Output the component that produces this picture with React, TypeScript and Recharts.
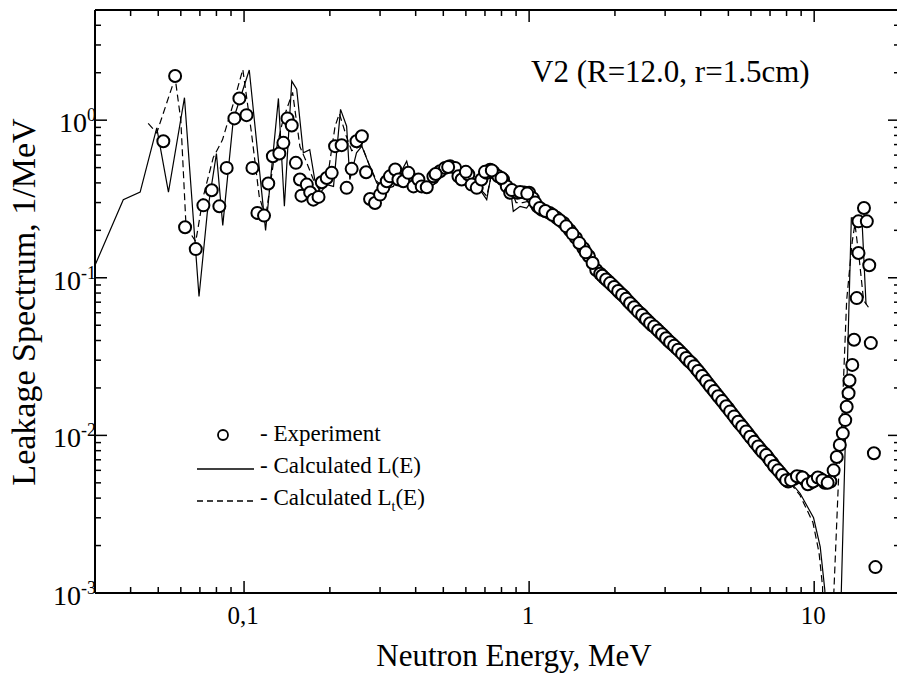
import React from 'react';
import { ComposedChart, Line, Scatter, XAxis, YAxis, Legend } from 'recharts';

// ---------- data ----------
const expEnergy = [
  0.0521, 0.0573, 0.0621, 0.0677, 0.072, 0.077, 0.0819, 0.0869, 0.0925, 0.0963,
  0.102, 0.107, 0.1114, 0.1175, 0.1216, 0.1262, 0.133, 0.1374, 0.142, 0.147,
  0.152, 0.1571, 0.159, 0.166, 0.1706, 0.175, 0.1825, 0.1874, 0.195, 0.203,
  0.2086, 0.22, 0.229, 0.2385, 0.248, 0.259, 0.268, 0.2767, 0.288, 0.3,
  0.308, 0.3167, 0.325, 0.339, 0.348, 0.362, 0.377, 0.393, 0.409, 0.42,
  0.4375, 0.4615, 0.487, 0.507, 0.528, 0.55, 0.565, 0.58, 0.612, 0.6285,
  0.655, 0.68, 0.7096, 0.7297, 0.75, 0.78, 0.81, 0.835, 0.858, 0.91,
  0.96, 1.0, 1.03, 1.07, 1.11, 1.18, 1.25, 1.32, 1.39, 1.46,
  1.55, 1.62, 1.72, 1.775, 1.834, 1.893, 1.955, 2.02, 2.086, 2.154,
  2.225, 2.298, 2.373, 2.452, 2.532, 2.615, 2.701, 2.79, 2.881, 2.976,
  3.074, 3.175, 3.279, 3.387, 3.499, 3.613, 3.732, 3.855, 3.981, 4.112,
  4.246, 4.386, 4.53, 4.679, 4.833, 4.991, 5.156, 5.325, 5.5, 5.68,
  5.867, 6.06, 6.259, 6.464, 6.677, 6.896, 7.123, 7.357, 7.598, 7.848,
  8.106, 8.5, 8.93, 9.3, 9.7, 10.1, 10.5, 10.9, 11.4, 11.7,
  12.0, 12.3, 12.6, 12.85, 13.0, 13.2, 13.3, 13.6, 13.8, 14.1,
  14.3, 14.3, 14.95, 15.3, 15.6, 15.8, 16.2, 16.4,
];
const expValue = [
  0.735, 1.905, 0.209, 0.152, 0.288, 0.359, 0.284, 0.498, 1.026, 1.374,
  1.076, 0.498, 0.258, 0.248, 0.396, 0.59, 0.614, 0.718, 1.026, 0.925,
  0.536, 0.42, 0.332, 0.39, 0.348, 0.313, 0.326, 0.404, 0.43, 0.463,
  0.684, 0.694, 0.372, 0.491, 0.735, 0.791, 0.467, 0.316, 0.298, 0.337,
  0.372, 0.41, 0.44, 0.486, 0.42, 0.41, 0.463, 0.38, 0.42, 0.38,
  0.375, 0.44, 0.474, 0.498, 0.51, 0.498, 0.44, 0.42, 0.452, 0.39,
  0.372, 0.42, 0.463, 0.485, 0.467, 0.44, 0.42, 0.38, 0.346, 0.346,
  0.348, 0.346, 0.32, 0.284, 0.27, 0.258, 0.24, 0.223, 0.2, 0.179,
  0.154, 0.137, 0.112, 0.106, 0.1, 0.095, 0.09, 0.085, 0.08, 0.076,
  0.071, 0.067, 0.063, 0.0595, 0.056, 0.053, 0.05, 0.0477, 0.045, 0.0426,
  0.04, 0.038, 0.036, 0.034, 0.032, 0.03, 0.0285, 0.0265, 0.0247, 0.023,
  0.0213, 0.0198, 0.0184, 0.0171, 0.0159, 0.0148, 0.0137, 0.0127, 0.0118, 0.011,
  0.0102, 0.0095, 0.0088, 0.0082, 0.0077, 0.0072, 0.0067, 0.0062, 0.0058, 0.0054,
  0.0051, 0.0053, 0.00546, 0.0052, 0.005, 0.0052, 0.0053, 0.005, 0.0051, 0.006,
  0.0073, 0.0087, 0.0103, 0.0125, 0.0152, 0.0185, 0.0223, 0.028, 0.0404, 0.0743,
  0.1436, 0.228, 0.277, 0.228, 0.12, 0.0385, 0.0077, 0.00146,
];

// extra experimental points in the densely sampled 0.5 - 11 MeV band
const expDenseEnergy = [
  0.47, 0.52, 0.6, 0.7, 0.74, 0.8, 0.87, 0.93, 0.985, 1.05,
  1.09, 1.14, 1.21, 1.28, 1.35, 1.42, 1.5, 1.58, 1.67, 1.805,
  1.863, 1.924, 1.987, 2.053, 2.12, 2.189, 2.261, 2.335, 2.412, 2.492,
  2.573, 2.658, 2.745, 2.835, 2.928, 3.025, 3.124, 3.227, 3.333, 3.442,
  3.556, 3.672, 3.793, 3.918, 4.046, 4.179, 4.315, 4.458, 4.604, 4.756,
  4.912, 5.073, 5.24, 5.412, 5.59, 5.773, 5.963, 6.159, 6.361, 6.57,
  6.786, 7.009, 7.239, 7.477, 7.722, 7.976, 8.3, 8.7, 9.1, 9.5,
  9.9, 10.3, 10.7, 11.15,
];
const expDenseValue = [
  0.455, 0.505, 0.47, 0.47, 0.48, 0.43, 0.36, 0.35, 0.342, 0.3,
  0.277, 0.265, 0.25, 0.232, 0.212, 0.19, 0.166, 0.145, 0.124, 0.103,
  0.0975, 0.0925, 0.0875, 0.0825, 0.078, 0.0735, 0.069, 0.065, 0.061, 0.058,
  0.0545, 0.0515, 0.049, 0.0463, 0.0438, 0.0413, 0.039, 0.037, 0.035, 0.033,
  0.031, 0.0292, 0.0275, 0.0256, 0.0238, 0.0221, 0.0205, 0.0191, 0.0177, 0.0165,
  0.0153, 0.0142, 0.0132, 0.0122, 0.0114, 0.0106, 0.0098, 0.0091, 0.0085, 0.0079,
  0.0075, 0.0069, 0.0064, 0.006, 0.0056, 0.0052, 0.0052, 0.0055, 0.0054, 0.0049,
  0.0051, 0.0054, 0.0052, 0.005,
];

const calcEnergy = [
  0.03, 0.0377, 0.0432, 0.0494, 0.0543, 0.0618, 0.0695, 0.0743, 0.08, 0.0842,
  0.0917, 0.1043, 0.119, 0.132, 0.1385, 0.147, 0.153, 0.1614, 0.17, 0.177,
  0.185, 0.195, 0.206, 0.218, 0.229, 0.235, 0.248, 0.259, 0.273, 0.292,
  0.308, 0.334, 0.372, 0.387, 0.415, 0.443, 0.474, 0.513, 0.557, 0.605,
  0.672, 0.71, 0.74, 0.79, 0.858, 0.88, 0.93, 0.98, 1.03, 1.11,
  1.3, 1.5, 1.8, 2.2, 2.7, 3.3, 4.0, 5.0, 6.0, 7.0,
  8.0, 8.93, 9.95, 10.5, 10.9, 11.05, 12.15, 13.5, 14.7, 15.2,
];
const calcValue = [
  0.12, 0.313, 0.35, 0.894, 0.35, 1.388, 0.076, 0.258, 0.614, 0.215,
  1.01, 2.08, 0.2, 1.374, 0.284, 1.77, 1.57, 0.62, 0.65, 0.42,
  0.346, 0.39, 0.38, 1.17, 0.916, 0.42, 0.62, 0.684, 0.536, 0.4,
  0.362, 0.38, 0.549, 0.41, 0.42, 0.372, 0.4, 0.486, 0.51, 0.44,
  0.362, 0.313, 0.474, 0.463, 0.38, 0.264, 0.284, 0.277, 0.313, 0.245,
  0.22, 0.16, 0.105, 0.072, 0.051, 0.036, 0.025, 0.0155, 0.0102, 0.0073,
  0.0054, 0.00428, 0.003, 0.00196, 0.00104, 0.0002, 0.0002, 0.24, 0.24, 0.068,
];

const calcTEnergy = [
  0.0461, 0.0494, 0.0573, 0.06, 0.0626, 0.0677, 0.072, 0.078, 0.084, 0.092,
  0.099, 0.106, 0.113, 0.119, 0.127, 0.136, 0.141, 0.148, 0.157, 0.165,
  0.175, 0.185, 0.195, 0.2086, 0.216, 0.228, 0.2385, 0.259, 0.275, 0.292,
  0.31, 0.334, 0.37, 0.39, 0.42, 0.45, 0.48, 0.52, 0.56, 0.61,
  0.67, 0.71, 0.74, 0.79, 0.86, 0.9, 0.95, 1.03, 1.11, 1.3,
  1.5, 1.8, 2.2, 2.7, 3.3, 4.0, 5.0, 6.0, 7.0, 8.0,
  8.9, 9.9, 10.4, 10.7, 10.8, 11.4, 12.17, 12.5, 13.0, 13.6,
  13.9, 14.4, 14.9, 15.5,
];
const calcTValue = [
  0.953, 0.83, 1.86, 1.0, 0.21, 0.17, 0.33, 0.58, 0.75, 1.3,
  2.1, 0.85, 0.33, 0.24, 0.55, 0.95, 1.17, 1.5, 0.68, 0.55,
  0.42, 0.36, 0.4, 0.916, 1.1, 0.8, 0.64, 0.69, 0.52, 0.41,
  0.37, 0.39, 0.5, 0.42, 0.41, 0.38, 0.41, 0.49, 0.5, 0.44,
  0.37, 0.33, 0.46, 0.45, 0.37, 0.3, 0.3, 0.31, 0.25, 0.215,
  0.158, 0.104, 0.072, 0.05, 0.0355, 0.0245, 0.0152, 0.01, 0.0071, 0.0053,
  0.0042, 0.0028, 0.0018, 0.0011, 0.0003, 0.0003, 0.0052, 0.0121, 0.072, 0.17,
  0.22, 0.13, 0.072, 0.065,
];

const xMajorTicks = [0.1, 1, 10];
const xTickLabels = ['0,1', '1', '10'];
const xMinorTicks = [
  0.04, 0.05, 0.06, 0.07, 0.08, 0.09,
  0.2, 0.3, 0.4, 0.5, 0.6, 0.7, 0.8, 0.9,
  2, 3, 4, 5, 6, 7, 8, 9,
];
const yMajorTicks = [0.001, 0.01, 0.1, 1];
const yExponents = ['-3', '-2', '-1', '0'];
const yMinorTicks = [
  0.002, 0.003, 0.004, 0.005, 0.006, 0.007, 0.008, 0.009,
  0.02, 0.03, 0.04, 0.05, 0.06, 0.07, 0.08, 0.09,
  0.2, 0.3, 0.4, 0.5, 0.6, 0.7, 0.8, 0.9,
  2, 3, 4,
];

const legendLabels = ['- Experiment', '- Calculated L(E)', '- Calculated L'];

const zip = (xs: number[], ys: number[]) => xs.map((x, i) => ({ x, y: ys[i] }));
const expData = [...zip(expEnergy, expValue), ...zip(expDenseEnergy, expDenseValue)];
const calcData = zip(calcEnergy, calcValue);
const calcTData = zip(calcTEnergy, calcTValue);

const xTicks = [...xMajorTicks, ...xMinorTicks].sort((a, b) => a - b);
const yTicks = [...yMajorTicks, ...yMinorTicks].sort((a, b) => a - b);

const FONT = '"Liberation Serif", "Times New Roman", serif';

const isMajor = (arr: number[], v: number) => arr.findIndex((m) => Math.abs(m - v) / m < 1e-6);

const BottomTick = (props: any) => {
  const { x, y, payload } = props;
  const i = isMajor(xMajorTicks, payload.value);
  const len = i >= 0 ? 12 : 6;
  return (
    <g>
      <line x1={x} y1={y} x2={x} y2={y - len} stroke="#000" strokeWidth={1.5} />
      {i >= 0 && (
        <text x={x - 1} y={y + 31} textAnchor="middle" fontFamily={FONT} fontSize={25} fill="#000">
          {xTickLabels[i]}
        </text>
      )}
    </g>
  );
};

const TopTick = (props: any) => {
  const { x, y, payload } = props;
  const i = isMajor(xMajorTicks, payload.value);
  const len = i >= 0 ? 12 : 6;
  return <line x1={x} y1={y} x2={x} y2={y + len} stroke="#000" strokeWidth={1.5} />;
};

const LeftTick = (props: any) => {
  const { x, y, payload } = props;
  const i = isMajor(yMajorTicks, payload.value);
  const len = i >= 0 ? 12 : 6;
  return (
    <g>
      <line x1={x} y1={y} x2={x + len} y2={y} stroke="#000" strokeWidth={1.5} />
      {i >= 0 && (
        <text x={x + 1} y={y + 12} textAnchor="end" fontFamily={FONT} fontSize={28} fill="#000">
          10
          <tspan dy={-11} fontSize={18}>
            {yExponents[i]}
          </tspan>
        </text>
      )}
    </g>
  );
};

const RightTick = (props: any) => {
  const { x, y, payload } = props;
  const i = isMajor(yMajorTicks, payload.value);
  const len = i >= 0 ? 12 : 6;
  return <line x1={x} y1={y} x2={x - len} y2={y} stroke="#000" strokeWidth={1.5} />;
};

const Circle = (props: any) => {
  const { cx, cy } = props;
  if (cx == null || cy == null) return null;
  return <circle cx={cx} cy={cy} r={6} fill="#fff" stroke="#000" strokeWidth={2} />;
};

const LegendBox = () => (
  <svg width={280} height={110} style={{ overflow: 'visible' }}>
    <circle cx={43} cy={15} r={5} fill="none" stroke="#000" strokeWidth={1.8} />
    <text x={80} y={21} fontFamily={FONT} fontSize={23} fill="#000">{legendLabels[0]}</text>
    <line x1={17} y1={49} x2={74} y2={49} stroke="#000" strokeWidth={1.3} />
    <text x={80} y={53} fontFamily={FONT} fontSize={23} fill="#000">{legendLabels[1]}</text>
    <line x1={17} y1={81} x2={74} y2={81} stroke="#000" strokeWidth={1.3} strokeDasharray="6 4" />
    <text x={80} y={85} fontFamily={FONT} fontSize={23} fill="#000">
      {legendLabels[2]}
      <tspan dy={6} fontSize={14}>t</tspan>
      <tspan dy={-6}>(E)</tspan>
    </text>
  </svg>
);

const axisLineStyle = { stroke: '#000', strokeWidth: 2 };

export default function App() {
  return (
    <div
      style={{
        position: 'fixed',
        left: 0,
        top: 0,
        width: 897,
        height: 674,
        overflow: 'hidden',
        background: '#fff',
      }}
    >
      <ComposedChart
        width={910}
        height={674}
        margin={{ top: 9, right: 9, bottom: 80, left: 94 }}
        style={{ position: 'absolute', left: 0, top: 0 }}
      >
        <XAxis
          xAxisId="b"
          dataKey="x"
          type="number"
          scale="log"
          domain={[0.03, 20]}
          allowDataOverflow
          ticks={xTicks}
          interval={0}
          height={1}
          tickSize={0}
          tickMargin={0}
          tickLine={false}
          axisLine={axisLineStyle}
          tick={<BottomTick />}
        />
        <XAxis
          xAxisId="t"
          orientation="top"
          dataKey="x"
          type="number"
          scale="log"
          domain={[0.03, 20]}
          allowDataOverflow
          ticks={xTicks}
          interval={0}
          height={1}
          tickSize={0}
          tickMargin={0}
          tickLine={false}
          axisLine={axisLineStyle}
          tick={<TopTick />}
        />
        <YAxis
          yAxisId="l"
          dataKey="y"
          type="number"
          scale="log"
          domain={[0.001, 5]}
          allowDataOverflow
          ticks={yTicks}
          interval={0}
          width={1}
          tickSize={0}
          tickMargin={0}
          tickLine={false}
          axisLine={axisLineStyle}
          tick={<LeftTick />}
        />
        <YAxis
          yAxisId="r"
          orientation="right"
          dataKey="y"
          type="number"
          scale="log"
          domain={[0.001, 5]}
          allowDataOverflow
          ticks={yTicks}
          interval={0}
          width={1}
          tickSize={0}
          tickMargin={0}
          tickLine={false}
          axisLine={axisLineStyle}
          tick={<RightTick />}
        />
        <Legend
          layout="horizontal"
          verticalAlign="middle"
          align="center"
          wrapperStyle={{ position: 'absolute', left: 180, top: 420, width: 280, height: 110 }}
          content={() => <LegendBox />}
        />
        <Line
          xAxisId="b"
          yAxisId="l"
          data={calcData}
          dataKey="y"
          type="linear"
          stroke="#000"
          strokeWidth={1.2}
          dot={false}
          isAnimationActive={false}
          name="Calculated L(E)"
        />
        <Line
          xAxisId="b"
          yAxisId="l"
          data={calcTData}
          dataKey="y"
          type="linear"
          stroke="#000"
          strokeWidth={1.2}
          strokeDasharray="7 4"
          dot={false}
          isAnimationActive={false}
          name="Calculated Lt(E)"
        />
        <Scatter
          xAxisId="b"
          yAxisId="l"
          data={expData}
          dataKey="y"
          shape={<Circle />}
          isAnimationActive={false}
          name="Experiment"
        />
      </ComposedChart>
      <svg
        width={897}
        height={674}
        style={{ position: 'absolute', left: 0, top: 0, pointerEvents: 'none' }}
      >
        <text x={531} y={82} fontFamily={FONT} fontSize={31} fill="#000">
          V2 (R=12.0, r=1.5cm)
        </text>
        <text x={514} y={666} textAnchor="middle" fontFamily={FONT} fontSize={31} fill="#000">
          Neutron Energy, MeV
        </text>
        <text
          x={0}
          y={0}
          transform="translate(35,302) rotate(-90)"
          textAnchor="middle"
          fontFamily={FONT}
          fontSize={34}
          fill="#000"
        >
          Leakage Spectrum, 1/MeV
        </text>
      </svg>
    </div>
  );
}
